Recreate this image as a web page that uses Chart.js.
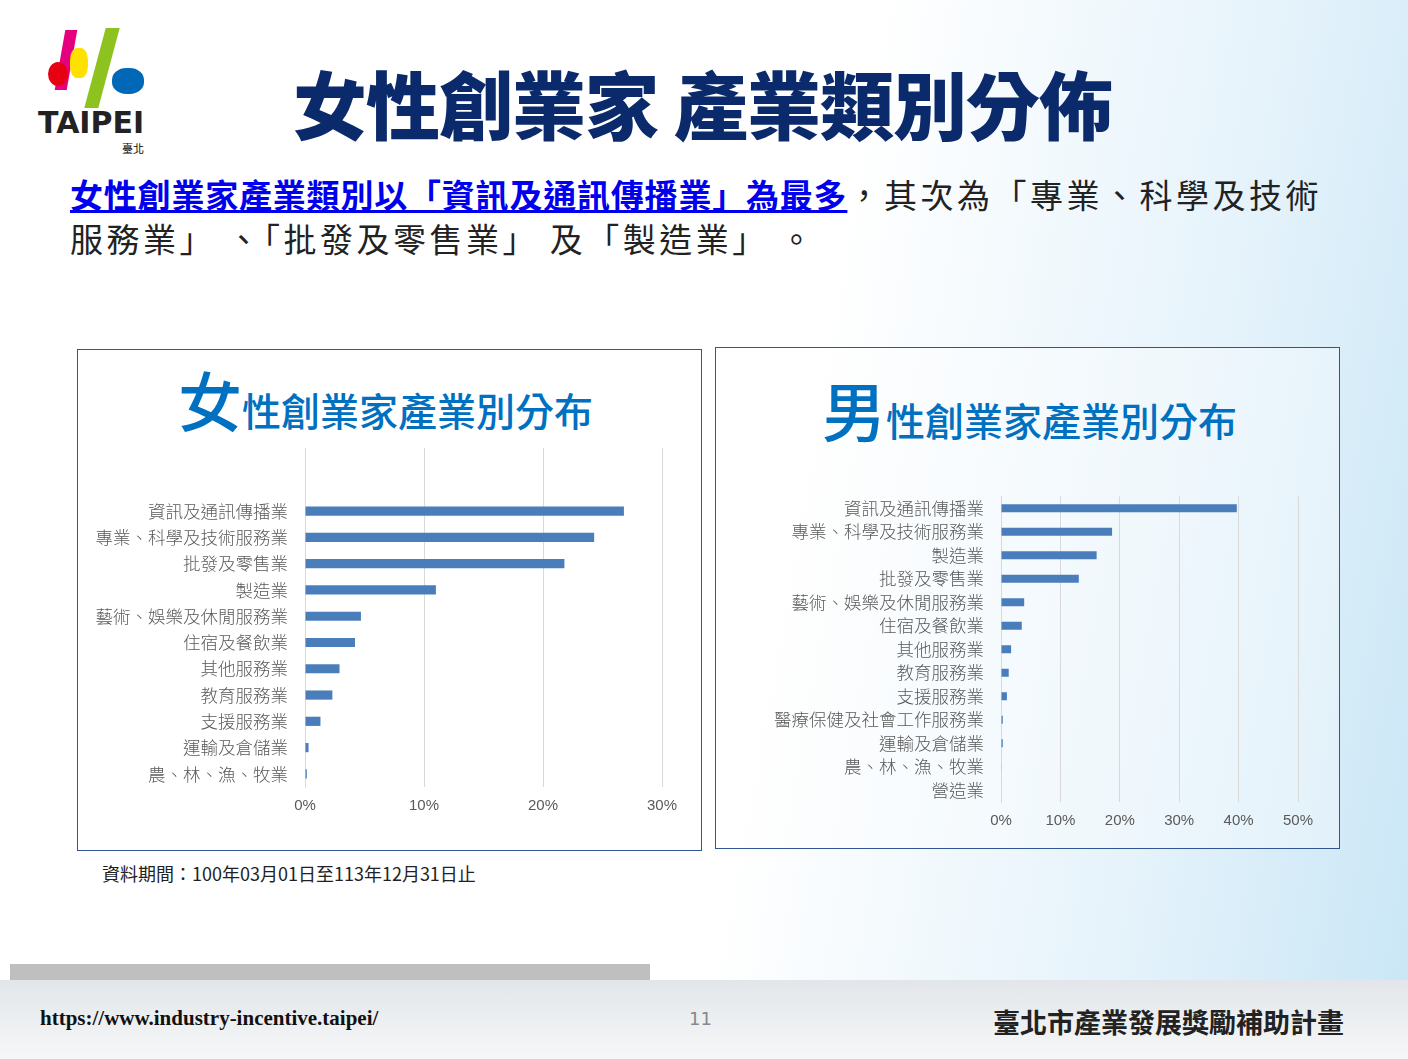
<!DOCTYPE html>
<html><head><meta charset="utf-8">
<script src="https://cdn.jsdelivr.net/npm/chart.js@4"></script>
<style>
body{margin:0;width:1408px;height:1059px;position:relative;overflow:hidden;font-family:"Noto Sans CJK TC","Noto Sans",sans-serif;
background:linear-gradient(100deg,#ffffff 0%,#ffffff 55%,#e6f3fb 80%,#c9e6f6 100%);}
.abs{position:absolute}
.box{position:absolute;border:1px solid #2f5597;background:rgba(255,255,255,0.35)}
.ttl{color:#0070c0;font-weight:500;white-space:nowrap}
</style></head><body>
<div class="abs" style="left:38px;top:105px;font:900 30px 'DejaVu Sans';color:#222">TAIPEI</div>
<div class="abs" style="left:122px;top:140px;font:11px 'Noto Sans CJK TC'">臺北</div>
<div class="abs" style="left:60px;top:30px;width:12px;height:60px;background:#e4007f;transform:skew(-10deg)"></div>
<div class="abs" style="left:95px;top:28px;width:14px;height:80px;background:#8dc21f;transform:skew(-15deg)"></div>
<div class="abs" style="left:48px;top:62px;width:20px;height:24px;background:#e60012;border-radius:50%"></div>
<div class="abs" style="left:70px;top:48px;width:18px;height:30px;background:#ffe100;border-radius:40%"></div>
<div class="abs" style="left:112px;top:68px;width:32px;height:26px;background:#0068b7;border-radius:45%"></div>
<div class="abs" style="left:293px;top:48px;font:900 74px 'Noto Sans CJK TC';color:#0b2a6b;letter-spacing:-1px">女性創業家 產業類別分佈</div>
<div class="abs" style="left:70px;top:172px;width:1330px;font:33px/44px 'Noto Sans CJK TC';color:#222;letter-spacing:3.5px;white-space:nowrap"><span style="color:#0000ee;text-decoration:underline;font-weight:bold;letter-spacing:0.8px">女性創業家產業類別以「資訊及通訊傳播業」為最多</span>，其次為「專業、科學及技術<br>服務業」 、「批發及零售業」 及「製造業」 。</div>

<div class="box" style="left:77px;top:349px;width:623px;height:500px"></div>
<div class="abs ttl" style="left:178px;top:352px;font-size:39px"><span style="font-size:64px">女</span>性創業家產業別分布</div>
<div class="abs" style="left:80px;top:440px;width:618px;height:385px"><canvas id="c1"></canvas></div>

<div class="box" style="left:715px;top:347px;width:623px;height:500px"></div>
<div class="abs ttl" style="left:822px;top:362px;font-size:39px"><span style="font-size:64px">男</span>性創業家產業別分布</div>
<div class="abs" style="left:718px;top:477px;width:618px;height:363px"><canvas id="c2"></canvas></div>

<div class="abs" style="left:102px;top:860px;font:18px 'Noto Sans CJK TC';color:#222">資料期間：100年03月01日至113年12月31日止</div>
<div class="abs" style="left:0;top:980px;width:1408px;height:79px;background:linear-gradient(#e2e6ea,#f6f7f8)"></div>
<div class="abs" style="left:10px;top:940px;width:640px;height:40px;background:linear-gradient(transparent 60%,#bfbfbf 60%)"></div>
<div class="abs" style="left:40px;top:1006px;font:bold 21px 'Liberation Serif';color:#111">https://www.industry-incentive.taipei/</div>
<div class="abs" style="left:689px;top:1008px;font:18px 'DejaVu Sans';color:#888">11</div>
<div class="abs" style="left:993px;top:1002px;font:bold 27px 'Noto Sans CJK TC';color:#222">臺北市產業發展獎勵補助計畫</div>
<script>
const femaleCats = ['資訊及通訊傳播業','專業、科學及技術服務業','批發及零售業','製造業','藝術、娛樂及休閒服務業','住宿及餐飲業','其他服務業','教育服務業','支援服務業','運輸及倉儲業','農、林、漁、牧業'];
const femaleVals = [26.8,24.3,21.8,11.0,4.7,4.2,2.9,2.3,1.3,0.3,0.15];
const maleCats = ['資訊及通訊傳播業','專業、科學及技術服務業','製造業','批發及零售業','藝術、娛樂及休閒服務業','住宿及餐飲業','其他服務業','教育服務業','支援服務業','醫療保健及社會工作服務業','運輸及倉儲業','農、林、漁、牧業','營造業'];
const maleVals = [39.7,18.7,16.1,13.1,3.9,3.5,1.7,1.3,1.0,0.3,0.3,0.1,0];

// extends vertical gridlines above the plot area (left chart has headroom)
const gridUp = {
  id: 'gridUp',
  beforeDatasetsDraw(chart, args, opts) {
    if (!opts.extra) return;
    const { ctx, scales: { x }, chartArea } = chart;
    ctx.save();
    ctx.strokeStyle = '#d9d9d9'; ctx.lineWidth = 1;
    x.ticks.forEach(t => {
      const px = Math.round(x.getPixelForValue(t.value)) + 0.5;
      ctx.beginPath(); ctx.moveTo(px, chartArea.top - opts.extra); ctx.lineTo(px, chartArea.top); ctx.stroke();
    });
    ctx.restore();
  }
};

function draw(id, cats, vals, max, yw, rightPad, topPad, extra) {
  new Chart(document.getElementById(id), {
    type: 'bar',
    data: { labels: cats, datasets: [{ data: vals, backgroundColor: '#4a7ebb', barPercentage: 0.7, categoryPercentage: 0.5 }] },
    options: {
      indexAxis: 'y', responsive: true, maintainAspectRatio: false, animation: false,
      layout: { padding: { right: rightPad, top: topPad } },
      plugins: { legend: { display: false }, tooltip: { enabled: false }, gridUp: { extra } },
      scales: {
        x: { min: 0, max: max, ticks: { stepSize: 10, callback: v => v + '%', color: '#595959', font: { size: 15 }, padding: 10 },
             grid: { color: '#d9d9d9', drawTicks: false }, border: { display: false } },
        y: { ticks: { color: '#595959', font: { size: 17.5, family: 'Noto Sans CJK TC', weight: 300 }, autoSkip: false, padding: 9 },
             grid: { display: false }, border: { color: '#d9d9d9' },
             afterFit: s => { s.width = yw; } }
      }
    },
    plugins: [gridUp]
  });
}
draw('c1', femaleCats, femaleVals, 30, 225, 36, 58, 50);
draw('c2', maleCats, maleVals, 50, 283, 38, 17, 0);
</script>
</body></html>
